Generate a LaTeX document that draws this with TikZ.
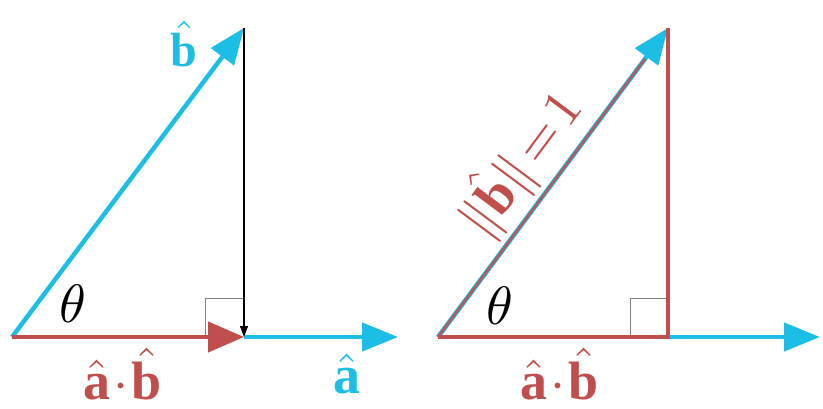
\documentclass[tikz,border=0pt]{standalone}
\usepackage{graphicx}
\usepackage{fontspec}
\setmainfont{Liberation Serif}
\usetikzlibrary{arrows.meta,calc}
\definecolor{vblue}{RGB}{28,190,230}
\definecolor{vred}{RGB}{192,78,76}
\newcommand{\biglabel}[1]{\scalebox{5.4}{#1}}
\newcommand{\toplabel}[1]{\scalebox{4.8}{#1}}
\tikzset{
  bluevec/.style={draw=vblue,line width=4.5pt,-{Triangle[length=36pt,width=28pt]}},
  redvec/.style={draw=vred,line width=4.5pt,-{Triangle[length=36pt,width=30pt]}},
  redline/.style={draw=vred,line width=3.5pt},
  projvec/.style={draw=black,line width=1.2pt,-{Triangle[length=11pt,width=8pt]}},
  rightang/.style={draw=gray,line width=1pt},
  lbl/.style={font=\fontsize{10}{12}\selectfont,inner sep=0pt},
}
\begin{document}
\begin{tikzpicture}[x=1pt,y=1pt]
\useasboundingbox (0,0) rectangle (823,408);
% ---------- left panel ----------
\coordinate (O1) at (12,71);
\coordinate (P1) at (244,71);
\coordinate (B1) at (244,380);
\coordinate (A1) at (398,71);
\draw[rightang] (205,71) -- (205,110) -- (244,110);
\draw[bluevec] (P1) -- (A1);
\draw[bluevec] (O1) -- (B1);
\draw[redvec] (O1) -- (P1);
\draw[projvec] (B1) -- (P1);
\node[lbl,text=vblue] (lb) at (184,364) {\toplabel{$\hat{\mathbf{b}}$}};
\node[lbl] (lt) at (73,104) {\biglabel{$\theta$}};
\node[lbl,text=vred] (lab) at (123,34) {\biglabel{$\hat{\mathbf{a}}\!\cdot\!\hat{\mathbf{b}}$}};
\node[lbl,text=vblue] (la) at (347,34) {\biglabel{$\hat{\mathbf{a}}$}};
% ---------- right panel ----------
\coordinate (O2) at (438,71);
\coordinate (P2) at (668,71);
\coordinate (B2) at (668,380);
\coordinate (A2) at (820,71);
\draw[rightang] (630,71) -- (630,110) -- (668,110);
\draw[bluevec] (O2) -- (A2);
\draw[bluevec] (O2) -- (B2);
\draw[redline] (O2) -- (P2) -- (B2);
\draw[draw=vred,line width=3pt,opacity=0.8] (O2) -- ($(O2)!0.9!(B2)$);
\path (O2) -- (B2) node[pos=0.49,sloped,above=6pt,lbl,text=vred] (lnorm) {\biglabel{$\|\hat{\mathbf{b}}\|\!=\!1$}};
\node[lbl] (rt) at (500,102) {\biglabel{$\theta$}};
\node[lbl,text=vred] (rab) at (560,34) {\biglabel{$\hat{\mathbf{a}}\!\cdot\!\hat{\mathbf{b}}$}};
\end{tikzpicture}
\end{document}
